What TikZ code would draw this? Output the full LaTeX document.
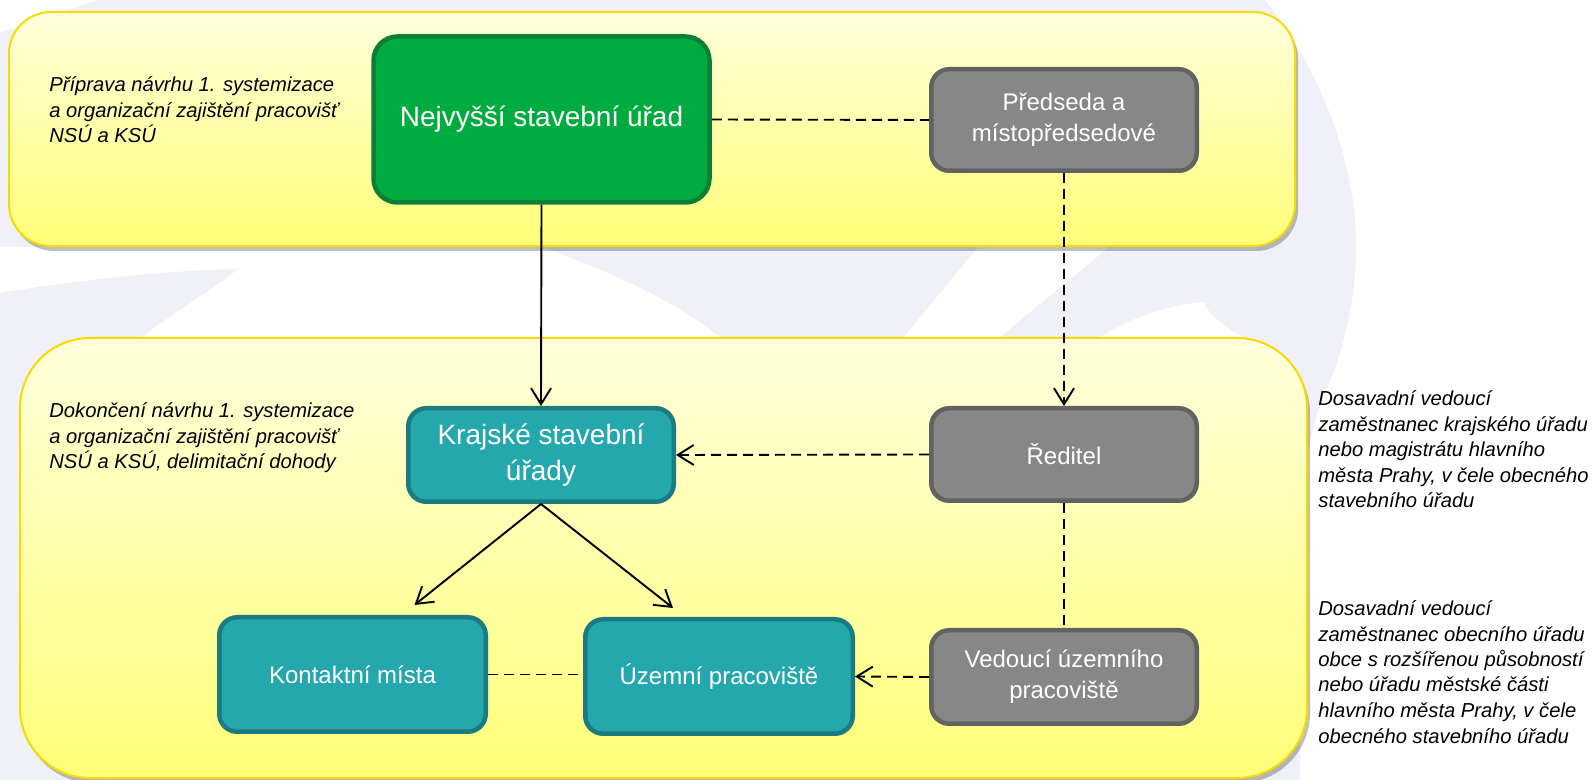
\documentclass[tikz,border=0pt]{standalone}
\usepackage{fontspec}
\setmainfont{Liberation Sans}
\usetikzlibrary{positioning,arrows.meta,shadows}

\definecolor{panelTop}{HTML}{FFFFDC}
\definecolor{panelBot}{HTML}{FFFF78}
\definecolor{panelLine}{HTML}{F5DC00}
\definecolor{nsuFill}{HTML}{00AB3F}
\definecolor{nsuLine}{HTML}{0C7E36}
\definecolor{ksuFill}{HTML}{25A7AE}
\definecolor{ksuLine}{HTML}{1B7B80}
\definecolor{headFill}{HTML}{878787}
\definecolor{headLine}{HTML}{626262}
\definecolor{logo}{HTML}{F0F0F8}

\tikzset{
  panel/.style={draw=panelLine, line width=1pt, top color=panelTop, bottom color=panelBot,
    drop shadow={shadow xshift=1.5pt, shadow yshift=-2.5pt, fill=black, opacity=0.25}},
  box/.style={rectangle, rounded corners=9pt, line width=2.25pt, text=white, align=center,
    font=\fontsize{12}{15.5}\selectfont},
  greenbox/.style={box, fill=nsuFill, draw=nsuLine, rounded corners=12pt,
    font=\fontsize{14}{18}\selectfont},
  tealbox/.style={box, fill=ksuFill, draw=ksuLine},
  graybox/.style={box, fill=headFill, draw=headLine},
  note/.style={anchor=base west, align=left, inner sep=0pt,
    font=\fontsize{10.1}{12.75}\selectfont\itshape},
  link/.style={line width=0.95pt},
  dashlink/.style={link, dash pattern=on 5pt off 3pt},
  tip/.style={-{Straight Barb[length=8pt,width=10pt]}}
}

\begin{document}
\begin{tikzpicture}[x=0.5pt,y=-0.5pt]
          \useasboundingbox (0,0) rectangle (1592,780);

          % faint logo in the background
          \fill[logo] (0,0) -- (1265,0) .. controls (1320,70) and (1355,160) .. (1356,240)
          .. controls (1357,310) and (1340,360) .. (1318,410) -- (1300,480) -- (1300,780)
          -- (0,780) -- cycle;
          \fill[white] (0,0) -- (97,0) -- (0,33) -- cycle;
          \fill[white] (0,247) -- (541,247) .. controls (620,275) and (680,305) .. (720,337)
          -- (0,337) -- cycle;
          \fill[logo] (0,293) .. controls (80,280) and (160,271) .. (238,269)
          .. controls (200,298) and (170,315) .. (142,337) -- (0,337) -- cycle;
          \fill[white] (978,247) -- (1109,247) -- (1000,337) -- (904,337) -- cycle;
          \fill[white] (1100,337) .. controls (1140,312) and (1180,304) .. (1204,302)
          .. controls (1210,318) and (1225,326) .. (1243,337) -- cycle;

          % the two stages
          \draw[panel, rounded corners=21pt] (9,12) rectangle (1295,246);
          \draw[panel, rounded corners=35pt] (20,338) rectangle (1307,778);

          \draw (541.5,119.5) node[greenbox, minimum width=168pt, minimum height=83pt]
          (nsu) {Nejvyšší stavební úřad};

          \draw (1064,120) node[graybox, minimum width=132.75pt, minimum height=50.75pt]
          (predseda) {Předseda a\\místopředsedové};

          \draw (541,455) node[tealbox, minimum width=132.75pt, minimum height=46.75pt,
          font=\fontsize{14}{18}\selectfont] (ksu) {Krajské stavební\\úřady};

          \draw (1064,454.5) node[graybox, minimum width=132.75pt, minimum height=46.25pt]
          (reditel) {Ředitel};

          \draw (352.5,674.5) node[tealbox, minimum width=133.25pt, minimum height=57.25pt]
          (kontakt) {Kontaktní místa};

          \draw (719,676.5) node[tealbox, minimum width=133.75pt, minimum height=57.25pt]
          (uzemni) {Územní pracoviště};

          \draw (1064,677) node[graybox, minimum width=132.75pt, minimum height=46.75pt]
          (vedouci) {Vedoucí územního\\pracoviště};

          % notes: anchored at the baseline of their last line
          \draw (49,143) node[note] (faze1)
          {Příprava návrhu 1. systemizace\\a organizační zajištění pracovišť\\NSÚ a KSÚ};

          \draw (49,469) node[note] (faze2)
          {Dokončení návrhu 1. systemizace\\a organizační zajištění pracovišť\\NSÚ a KSÚ, delimitační dohody};

          \draw (1318,508) node[note] (puvod1)
          {Dosavadní vedoucí\\zaměstnanec krajského úřadu\\nebo magistrátu hlavního\\města Prahy, v čele obecného\\stavebního úřadu};

          \draw (1318,743) node[note] (puvod2)
          {Dosavadní vedoucí\\zaměstnanec obecního úřadu\\obce s rozšířenou působností\\nebo úřadu městské části\\hlavního města Prahy, v čele\\obecného stavebního úřadu};

          \draw[dashlink] (nsu.east) to (predseda.west);

          \draw[link,tip] (nsu.south) to (ksu.north);

          \draw[dashlink,tip] (predseda.south) to (reditel.north);

          \draw[dashlink,tip] (reditel.west) to (ksu.east);

          \draw[link,tip] (ksu.south) to ([xshift=31pt,yshift=5pt]kontakt.north);

          \draw[link,tip] (ksu.south) to ([xshift=-23pt,yshift=4.5pt]uzemni.north);

          \draw[dashlink] (kontakt.east) to (kontakt.east -| uzemni.west);

          \draw[dashlink] (reditel.south) to (vedouci.north);

          \draw[dashlink,tip] (vedouci.west) to (uzemni.east);
        \end{tikzpicture}
\end{document}
